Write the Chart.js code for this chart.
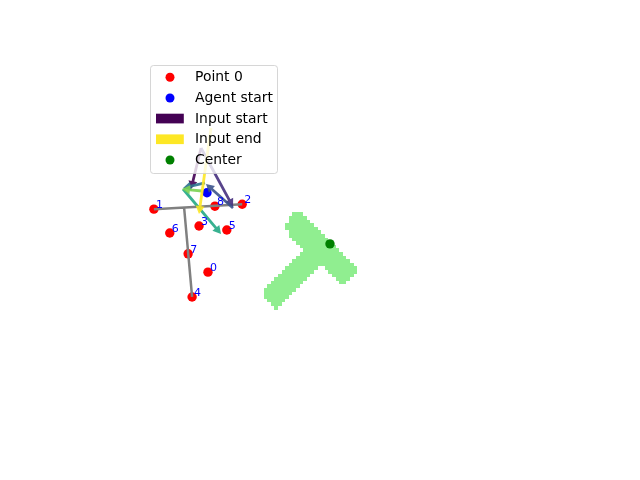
<!DOCTYPE html>
<html>
<head>
<meta charset="utf-8">
<script src="https://cdn.jsdelivr.net/npm/chart.js@4/dist/chart.umd.min.js"></script>
<style>
html,body{margin:0;padding:0;background:#fff;}
#wrap{width:640px;height:480px;}
</style>
</head>
<body>
<div id="wrap"><canvas id="c" width="640" height="480"></canvas></div>
<script>
// ---- data (in plot units) ----
const pointLabels = ["0","1","2","3","4","5","6","7","8"];
const pointX = [-2.42, -3.51, -1.73, -2.60, -2.74, -2.04, -3.19, -2.82, -2.28];
const pointY = [-0.60,  0.67,  0.77,  0.33, -1.10,  0.25,  0.19, -0.23,  0.73];

const linkX0 = [-3.51, -2.90];
const linkY0 = [ 0.67,  0.69];
const linkX1 = [-1.73, -2.74];
const linkY1 = [ 0.77, -1.10];

const agentX = [-2.44];
const agentY = [1.00];

const centerX = [0.04];
const centerY = [-0.03];

// T-shaped object outline (vertices)
const shapeX = [-0.605, 0.605, 0.302, -0.161, -1.048, -1.331, -0.464, -0.927];
const shapeY = [ 0.633,-0.556,-0.899, -0.456, -1.343, -1.020, -0.153,  0.310];

// input arrows (start -> end)
const arrowX0 = [-2.560, -2.560, -1.915, -2.480, -2.923, -2.540, -2.359];
const arrowY0 = [ 1.903,  1.903,  0.694,  1.198,  1.077,  1.036,  2.306];
const arrowX1 = [-2.762, -1.915, -2.460, -2.923, -2.157, -2.944, -2.601];
const arrowY1 = [ 1.077,  0.714,  1.177,  1.097,  0.169,  1.077,  0.573];
const arrowColors = ["#440154","#46307e","#3b528b","#2c728e","#22a884","#7ad151","#fde725"];

const legendLabels = ["Point 0","Agent start","Input start","Input end","Center"];

const xRange = [-5, 5];
const yRange = [-3.7258, 3.7258];

// ---- plugins ----
const shapePlugin = {
  id: 'shape',
  beforeDatasetsDraw(chart) {
    const {ctx, chartArea: a, scales: {x, y}} = chart;
    const cell = 3.6;
    const w = Math.ceil((a.right - a.left) / cell), h = Math.ceil((a.bottom - a.top) / cell);
    const off = document.createElement('canvas');
    off.width = w; off.height = h;
    const o = off.getContext('2d');
    o.beginPath();
    shapeX.forEach((vx, i) => {
      const px = (x.getPixelForValue(vx) - a.left) / cell;
      const py = (y.getPixelForValue(shapeY[i]) - a.top) / cell;
      if (i === 0) o.moveTo(px, py); else o.lineTo(px, py);
    });
    o.closePath();
    o.fillStyle = '#90ee90';
    o.fill();
    const img = o.getImageData(0, 0, w, h);
    for (let i = 3; i < img.data.length; i += 4) {
      if (img.data[i] > 100) { img.data[i] = 255; img.data[i-3] = 0x90; img.data[i-2] = 0xee; img.data[i-1] = 0x90; }
      else img.data[i] = 0;
    }
    o.putImageData(img, 0, 0);
    ctx.save();
    ctx.imageSmoothingEnabled = false;
    ctx.drawImage(off, a.left, a.top, w * cell, h * cell);
    ctx.restore();
  }
};

const overlayPlugin = {
  id: 'overlay',
  afterDatasetsDraw(chart) {
    const {ctx, scales: {x, y}} = chart;
    ctx.save();
    // arrows
    arrowX0.forEach((_, i) => {
      const x0 = x.getPixelForValue(arrowX0[i]), y0 = y.getPixelForValue(arrowY0[i]);
      const x1 = x.getPixelForValue(arrowX1[i]), y1 = y.getPixelForValue(arrowY1[i]);
      const dx = x1 - x0, dy = y1 - y0, L = Math.hypot(dx, dy);
      const ux = dx / L, uy = dy / L, nx = -uy, ny = ux;
      const hl = 8, hw = 4.5, sw = 1.4;
      const bx = x1 - ux * hl, by = y1 - uy * hl;
      ctx.beginPath();
      ctx.moveTo(x0 + nx * sw, y0 + ny * sw);
      ctx.lineTo(bx + nx * sw, by + ny * sw);
      ctx.lineTo(bx + nx * hw, by + ny * hw);
      ctx.lineTo(x1, y1);
      ctx.lineTo(bx - nx * hw, by - ny * hw);
      ctx.lineTo(bx - nx * sw, by - ny * sw);
      ctx.lineTo(x0 - nx * sw, y0 - ny * sw);
      ctx.closePath();
      ctx.fillStyle = arrowColors[i];
      ctx.globalAlpha = 0.9;
      ctx.fill();
    });
    ctx.globalAlpha = 1;
    // point labels
    ctx.fillStyle = '#0000ff';
    ctx.font = '11px "DejaVu Sans"';
    ctx.textAlign = 'left';
    ctx.textBaseline = 'alphabetic';
    pointLabels.forEach((t, i) => {
      ctx.fillText(t, x.getPixelForValue(pointX[i]) + 2, y.getPixelForValue(pointY[i]) - 1);
    });
    ctx.restore();
  },
  afterDraw(chart) {
    const {ctx} = chart;
    ctx.save();
    const bx = 150.5, by = 65.5, bw = 127, bh = 108, r = 3;
    ctx.beginPath();
    ctx.moveTo(bx + r, by);
    ctx.arcTo(bx + bw, by, bx + bw, by + bh, r);
    ctx.arcTo(bx + bw, by + bh, bx, by + bh, r);
    ctx.arcTo(bx, by + bh, bx, by, r);
    ctx.arcTo(bx, by, bx + bw, by, r);
    ctx.closePath();
    ctx.fillStyle = 'rgba(255,255,255,0.8)';
    ctx.fill();
    ctx.strokeStyle = 'rgba(204,204,204,0.8)';
    ctx.lineWidth = 1;
    ctx.stroke();
    const rows = [77.3, 98.0, 118.6, 139.3, 160.0];
    const kinds = ['dot', 'dot', 'rect', 'rect', 'dot'];
    const cols = ['#ff0000', '#0000ff', arrowColors[0], arrowColors[arrowColors.length - 1], '#008000'];
    ctx.font = '13.9px "DejaVu Sans"';
    ctx.textBaseline = 'middle';
    ctx.textAlign = 'left';
    legendLabels.forEach((t, i) => {
      ctx.fillStyle = cols[i];
      if (kinds[i] === 'dot') {
        ctx.beginPath(); ctx.arc(170, rows[i], 4.5, 0, Math.PI * 2); ctx.fill();
      } else {
        ctx.fillRect(156, rows[i] - 4.9, 27.8, 9.7);
      }
      ctx.fillStyle = '#000';
      ctx.fillText(t, 195, rows[i] + 0.5);
    });
    ctx.restore();
  }
};

const toXY = (xs, ys) => xs.map((v, i) => ({x: v, y: ys[i]}));
const linkData = [];
linkX0.forEach((_, i) => {
  linkData.push({x: linkX0[i], y: linkY0[i]}, {x: linkX1[i], y: linkY1[i]}, {x: null, y: null});
});

new Chart(document.getElementById('c'), {
  type: 'scatter',
  data: {
    datasets: [
      {label: 'Center', data: toXY(centerX, centerY), backgroundColor: '#008000', pointRadius: 4.7, borderWidth: 0, order: 1},
      {label: 'Agent start', data: toXY(agentX, agentY), backgroundColor: '#0000ff', pointRadius: 4.7, borderWidth: 0, order: 3},
      {label: 'links', type: 'line', data: linkData, showLine: true, spanGaps: false, borderColor: '#808080', borderWidth: 2.5, pointRadius: 0, fill: false, order: 4},
      {label: 'Point 0', data: toXY(pointX, pointY), backgroundColor: '#ff0000', pointRadius: 4.7, borderWidth: 0, order: 5}
    ]
  },
  options: {
    responsive: false,
    animation: false,
    layout: {padding: {left: 80, right: 64, top: 57.6, bottom: 52.8}},
    plugins: {legend: {display: false}, tooltip: {enabled: false}},
    events: [],
    scales: {
      x: {type: 'linear', min: xRange[0], max: xRange[1], display: false},
      y: {type: 'linear', min: yRange[0], max: yRange[1], display: false}
    }
  },
  plugins: [shapePlugin, overlayPlugin]
});
</script>
</body>
</html>
